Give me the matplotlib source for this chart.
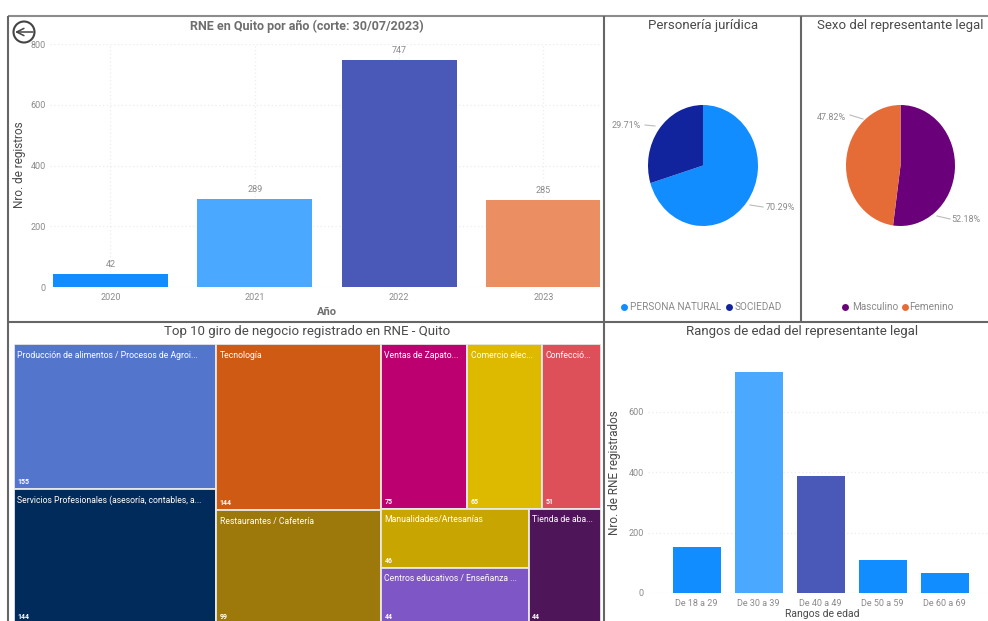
import matplotlib
matplotlib.use("Agg")
import matplotlib.pyplot as plt
from matplotlib.patches import Circle, Rectangle

W, H = 988, 621
plt.rcParams['font.family'] = ['Roboto', 'DejaVu Sans']

years = ['2020', '2021', '2022', '2023']
year_values = [42, 289, 747, 285]
year_colors = ['#118DFF', '#4AA8FF', '#4A58B8', '#EB8F63']

tipo_labels = ['PERSONA NATURAL', 'SOCIEDAD']
tipo_values = [70.29, 29.71]
tipo_colors = ['#118DFF', '#12239E']

sexo_labels = ['Masculino', 'Femenino']
sexo_values = [52.18, 47.82]
sexo_colors = ['#6B007B', '#E66C37']

edad_labels = ['De 18 a 29', 'De 30 a 39', 'De 40 a 49', 'De 50 a 59', 'De 60 a 69']
edad_values = [151, 730, 387, 110, 66]
edad_colors = ['#118DFF', '#4AA8FF', '#4A58B8', '#118DFF', '#118DFF']

giro_col1 = [('Producción de alimentos / Procesos de Agroi...', 155, '#5375CC'),
             ('Servicios Profesionales (asesoría, contables, a...', 144, '#012B5B')]
giro_col2 = [('Tecnología', 144, '#CF5A13'),
             ('Restaurantes / Cafetería', 99, '#9D780A')]
giro_row_top = [('Ventas de Zapato...', 75, '#BD0070'),
                ('Comercio elec...', 65, '#DDB900'),
                ('Confecció...', 51, '#DD5059')]
giro_stack = [('Manualidades/Artesanías', 46, '#C9A500'),
              ('Centros educativos / Enseñanza ...', 44, '#7F56C5')]
giro_side = [('Tienda de aba...', 44, '#4E1559')]

fig = plt.figure(figsize=(W / 100, H / 100), dpi=100, facecolor='white')


def axpx(x0, y0, x1, y1, **kw):
    return fig.add_axes([x0 / W, 1 - y1 / H, (x1 - x0) / W, (y1 - y0) / H], **kw)


TXT = '#8A8A8A'
DARK = '#4A4A4A'
GRID = '#EDEDED'


def style_bar(ax, ticks):
    for s in ax.spines.values():
        s.set_visible(False)
    ax.tick_params(length=0, labelsize=6.5, labelcolor=TXT, pad=3)
    ax.tick_params(axis='x', pad=4.5)
    ax.set_yticks(ticks)
    ax.grid(True, axis='y', color=GRID, lw=0.9, ls=(0, (1, 2)))
    ax.set_axisbelow(True)
    ax.patch.set_alpha(0)


# Bars by year
ax1 = axpx(50, 44, 600, 287)
ax1.bar(range(len(years)), year_values, width=0.797, color=year_colors)
ax1.set_xlim(-0.419, 3.392)
ax1.set_ylim(0, 800)
style_bar(ax1, [0, 200, 400, 600, 800])
ax1.grid(True, axis='x', color=GRID, lw=0.9, ls=(0, (1, 2)))
ax1.set_xticks(range(len(years)), years)
for i, v in enumerate(year_values):
    ax1.annotate(str(v), (i, v), xytext=(0, 4), textcoords='offset points',
                 ha='center', va='bottom', fontsize=6.5, color=TXT)

# Bars by age
ax2 = axpx(648, 351, 988, 593)
ax2.bar(range(len(edad_labels)), edad_values, width=0.774, color=edad_colors)
ax2.set_xlim(-0.785, 4.70)
ax2.set_ylim(0, 800)
style_bar(ax2, [0, 200, 400, 600])
ax2.set_xticks(range(len(edad_labels)), edad_labels)

# Pies


def pie(box, values, colors):
    ax = axpx(*box)
    ax.pie(values, colors=colors, startangle=90, counterclock=False, radius=1)
    ax.set_aspect('auto')
    ax.set_xlim(-1, 1)
    ax.set_ylim(-1, 1)
    return ax


pie((648, 105, 758, 226), tipo_values, tipo_colors)
pie((846, 105, 955, 226), sexo_values, sexo_colors)

# Treemap
ax3 = axpx(14, 344, 601, 624)
total = sum(v for g in (giro_col1, giro_col2, giro_row_top, giro_stack, giro_side) for _, v, _ in g)
ax3.set_xlim(0, total)
ax3.set_ylim(1, 0)
ax3.axis('off')


def cell(x, y, w, h, item):
    name, value, color = item
    ax3.add_patch(Rectangle((x, y), w, h, fc=color, ec='#E8E8E8', lw=1.3))
    ax3.annotate(name, (x, y), xytext=(2.5, -8), textcoords='offset points', ha='left',
                 va='center', fontsize=6.2, color='white', annotation_clip=False)
    ax3.annotate(str(value), (x, y + h), xytext=(2.5, 5), textcoords='offset points', ha='left',
                 va='center', fontsize=5, color='white', weight='bold', annotation_clip=False)


x = 0
for col in (giro_col1, giro_col2):
    s = sum(v for _, v, _ in col)
    y = 0
    for item in col:
        cell(x, y, s, item[1] / s, item)
        y += item[1] / s
    x += s
s3 = total - x
top_sum = sum(v for _, v, _ in giro_row_top)
top_h = top_sum / s3
xx = x
for item in giro_row_top:
    w = s3 * item[1] / top_sum
    cell(xx, 0, w, top_h, item)
    xx += w
low_sum = s3 - top_sum
stack_sum = sum(v for _, v, _ in giro_stack)
stack_w = s3 * stack_sum / low_sum
y = top_h
for item in giro_stack:
    h = (1 - top_h) * item[1] / stack_sum
    cell(x, y, stack_w, h, item)
    y += h
cell(x + stack_w, top_h, s3 - stack_w, 1 - top_h, giro_side[0])

# Overlay in pixel coordinates: frames, titles, labels, legends
ov = fig.add_axes([0, 0, 1, 1], zorder=10)
ov.set_xlim(0, W)
ov.set_ylim(H, 0)
ov.axis('off')
ov.patch.set_alpha(0)

FRAME = '#666666'
for xs, ys, c in [((8, W), (16, 16), '#8C8C8C'), ((8, 8), (16, H), FRAME), ((604, 604), (16, H), FRAME),
                  ((801, 801), (16, 322), FRAME), ((8, W), (322, 322), FRAME)]:
    ov.plot(xs, ys, color=c, lw=1.5, solid_capstyle='butt')


def t(x, y, s, size=8, color=DARK, ha='center', **kw):
    ov.text(x, y, s, fontsize=size, color=color, ha=ha, va='center', **kw)


t(307, 26, 'RNE en Quito por año (corte: 30/07/2023)', 9, weight='bold', alpha=0.8)
t(703, 26, 'Personería jurídica', 9.5)
t(900, 26, 'Sexo del representante legal', 9.5)
t(307, 332, 'Top 10 giro de negocio registrado en RNE - Quito', 9.5)
t(802, 332, 'Rangos de edad del representante legal', 9.5)
t(20, 165, 'Nro. de registros', 8.5, rotation=90)
t(327, 312, 'Año', 8, weight='bold', alpha=0.8)
t(614, 473, 'Nro. de RNE registrados', 8.5, rotation=90)
t(822, 614, 'Rangos de edad', 7.5)

for x, y, s in [(626, 125, '29.71%'), (780, 207, '70.29%'), (831, 117, '47.82%'), (966, 220, '52.18%')]:
    t(x, y, s, 6.5, color=TXT)
for xs, ys in [((645, 655), (125, 126)), ((750, 763), (205, 207)), ((850, 863), (115, 119)), ((937, 950), (216, 219))]:
    ov.plot(xs, ys, color='#BBBBBB', lw=0.8)

for x, c, s, tx in [(624, tipo_colors[0], tipo_labels[0], 630), (729, tipo_colors[1], tipo_labels[1], 735),
                    (845, sexo_colors[0], sexo_labels[0], 852), (905, sexo_colors[1], sexo_labels[1], 909)]:
    ov.plot([x], [307], 'o', ms=5, color=c, mew=0)
    t(tx, 307, s, 7.2, color=TXT, ha='left')

ov.add_patch(Circle((24, 32), 10.5, fc='none', ec='#444444', lw=1.5))
ov.annotate('', xy=(15, 32), xytext=(33, 32),
            arrowprops=dict(arrowstyle='->', color='#444444', lw=1.1, mutation_scale=13,
                            shrinkA=0, shrinkB=0))

fig.savefig('out.png', dpi=100)
